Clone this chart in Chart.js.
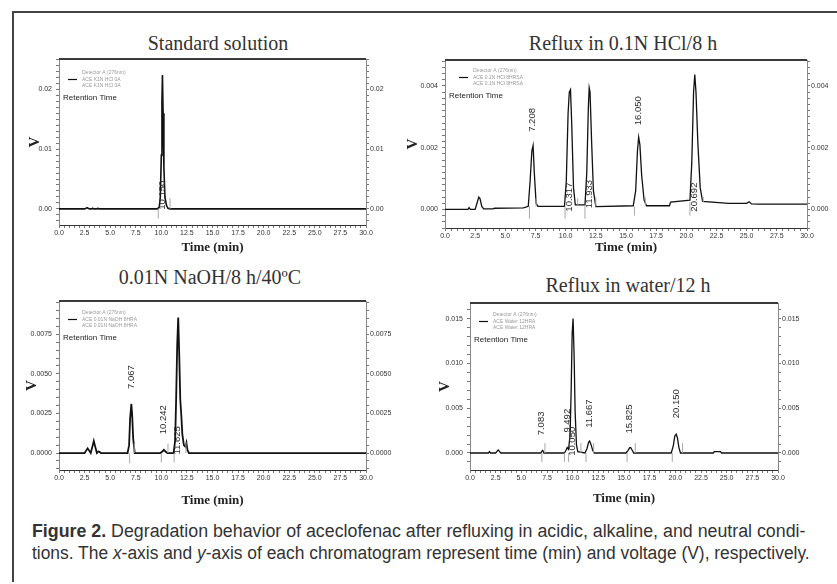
<!DOCTYPE html>
<html><head><meta charset="utf-8">
<script src="https://cdn.jsdelivr.net/npm/chart.js@4/dist/chart.umd.min.js"></script>
<style>
html,body{margin:0;padding:0;background:#fff;}
#fig{position:relative;width:837px;height:584px;overflow:hidden;background:#fff;}
.frame-top{position:absolute;left:12px;top:11px;width:825px;height:2px;background:#444;}
.frame-left{position:absolute;left:12px;top:11px;width:2px;height:571px;background:#444;}
.ptitle{position:absolute;font-family:'Liberation Serif',serif;font-size:20px;color:#333;white-space:nowrap;transform:translate(-50%,-50%);line-height:1;}
canvas{position:absolute;}
.cap{position:absolute;left:32px;font-family:'Liberation Sans Narrow','Liberation Sans',sans-serif;font-size:18px;color:#333;white-space:nowrap;transform-origin:0 50%;line-height:1;}
</style></head>
<body>
<div id="fig">
  <div class="frame-top"></div><div class="frame-left"></div>
  <div class="ptitle" style="left:218px;top:43px">Standard solution</div>
  <div class="ptitle" style="left:623px;top:43px">Reflux in 0.1N HCl/8 h</div>
  <div class="ptitle" style="left:210px;top:277px">0.01N NaOH/8 h/40ºC</div>
  <div class="ptitle" style="left:628px;top:285px">Reflux in water/12 h</div>
  <canvas id="c1" width="380" height="208" style="left:20px;top:50px"></canvas>
  <canvas id="c2" width="434" height="209" style="left:403px;top:51px"></canvas>
  <canvas id="c3" width="380" height="218" style="left:20px;top:292px"></canvas>
  <canvas id="c4" width="390" height="216" style="left:430px;top:294px"></canvas>
  <div class="cap" id="cap1" style="top:522px"><b>Figure 2.</b> Degradation behavior of aceclofenac after refluxing in acidic, alkaline, and neutral condi-</div>
  <div class="cap" id="cap2" style="top:544px">tions. The <i>x</i>-axis and <i>y</i>-axis of each chromatogram represent time (min) and voltage (V), respectively.</div>
</div>
<script>
// ---------- shared axis data ----------
const xMajorTicks = [0, 2.5, 5, 7.5, 10, 12.5, 15, 17.5, 20, 22.5, 25, 27.5, 30];
const xTickLabels = ['0.0','2.5','5.0','7.5','10.0','12.5','15.0','17.5','20.0','22.5','25.0','27.5','30.0'];

// ---------- Panel 1: Standard solution ----------
const stdTime = [0, 2.5, 2.65, 2.75, 2.85, 3.0, 3.2, 3.3, 3.4, 3.7, 3.8, 3.9, 4.1, 9.6, 9.8, 9.9, 10.0, 10.06, 10.11, 10.17, 10.25, 10.35, 10.5, 10.65, 10.85, 30];
const stdVolt = [0, 0, 0.0001, 0.0002, 0.0001, 0, 0, 0.0001, 0, 0, 0.0001, 0, 0, 0, 0.0003, 0.002, 0.009, 0.018, 0.0224, 0.016, 0.007, 0.002, 0.0006, 0.0001, 0, 0];
const stdMarkTime = [9.7, 10.85];
const stdMarkLow = [-0.0016, 0];
const stdMarkHigh = [0, 0.0018];
const stdPeakLabels = ['10.150'];
const stdPeakTime = [10.15];
const stdPeakY = [0.0023];
const stdYTicks = [0, 0.01, 0.02];
const stdYLabels = ['0.00', '0.01', '0.02'];
const stdLegend = ['Detector A (276nm)', 'ACE K1N HCl 0A', 'ACE K1N HCl 0A'];

// ---------- Panel 2: Reflux in 0.1N HCl/8 h ----------
const acidTime = [0, 1.9, 2.0, 2.1, 2.5, 2.65, 2.8, 2.9, 3.05, 3.2, 4.0, 4.1,
  6.5, 6.9, 7.05, 7.2, 7.3, 7.4, 7.55, 7.7,
  9.9, 10.05, 10.2, 10.3, 10.4, 10.5, 10.65, 10.8,
  11.6, 11.75, 11.88, 11.95, 12.02, 12.15, 12.3, 12.5,
  15.6, 15.8, 15.95, 16.05, 16.15, 16.3, 16.5, 16.7,
  18.6, 18.7, 20.3, 20.45, 20.6, 20.7, 20.8, 20.95, 21.15, 21.35,
  23.5, 25.0, 25.2, 25.4, 26.0, 30];
const acidVolt = [0, 0, 0.00006, 0, 0, 0.0002, 0.0004, 0.00035, 0.0001, 0.00002, 0.00002, 0.00004,
  0.00005, 0.0001, 0.0009, 0.0019, 0.00207, 0.0012, 0.0002, 0.0001,
  0.0001, 0.0009, 0.0031, 0.0038, 0.00388, 0.0028, 0.0007, 0.00015,
  0.00015, 0.0012, 0.0033, 0.00394, 0.0038, 0.0022, 0.0006, 0.00009,
  0.00012, 0.0006, 0.0019, 0.00234, 0.0021, 0.0011, 0.0003, 0.00012,
  0.00012, 0.00024, 0.0003, 0.0015, 0.0038, 0.00437, 0.0038, 0.0022, 0.0007, 0.00026,
  0.0002, 0.0002, 0.00025, 0.00018, 0.00017, 0.00017];
const acidMarkTime = [7.0, 7.55, 9.95, 11.0, 11.6, 12.5, 15.7, 16.6, 20.3, 21.4];
const acidMarkLow = [-0.0003, 0.0001, -0.0003, 0.00015, -0.0003, 0.0001, -0.0002, 0.00012, -0.0002, 0.00024];
const acidMarkHigh = [0.0001, 0.00035, 0.0001, 0.00036, 0.00015, 0.0004, 0.0001, 0.0004, 0.00024, 0.0004];
const acidPeakLabels = ['7.208', '10.317', '11.933', '16.050', '20.692'];
const acidPeakTime = [7.25, 10.3, 11.95, 16.05, 20.7];
const acidPeakY = [0.0029, 0.0004, 0.0005, 0.0032, 0.0004];
const acidYTicks = [0, 0.002, 0.004];
const acidYLabels = ['0.000', '0.002', '0.004'];
const acidLegend = ['Detector A (276nm)', 'ACE 0.1N HCl 8HRSA', 'ACE 0.1N HCl 8HRSA'];

// ---------- Panel 3: 0.01N NaOH/8 h/40ºC ----------
const alkTime = [0, 2.5, 2.7, 2.8, 2.9, 3.1, 3.3, 3.4, 3.5, 3.7, 3.85, 3.95, 4.1,
  6.7, 6.85, 6.95, 7.07, 7.15, 7.25, 7.4,
  9.9, 10.1, 10.25, 10.4, 10.6,
  11.2, 11.35, 11.45, 11.55, 11.65, 11.75, 11.85, 11.95, 12.05, 12.2, 12.35, 12.45, 12.55, 12.7, 30];
const alkVolt = [0, 0, 0.0002, 0.0003, 0.0002, 0, 0.0005, 0.00076, 0.0005, 0, 0.0001, 0.00008, 0,
  0, 0.0005, 0.0022, 0.0031, 0.0024, 0.0009, 0,
  0, 0.0001, 0.0002, 0.0001, 0,
  0, 0.0008, 0.0035, 0.0068, 0.00855, 0.0062, 0.0034, 0.0024, 0.0012, 0.0005, 0.0004, 0.00065, 0.0002, 0, 0];
const alkMarkTime = [6.9, 7.35, 10.0, 10.65, 11.25, 12.4];
const alkMarkLow = [-0.00065, 0, -0.0006, 0, -0.0006, 0];
const alkMarkHigh = [0, 0.0006, 0, 0.0006, 0, 0.0007];
const alkPeakLabels = ['7.067', '10.242', '11.625'];
const alkPeakTime = [7.07, 10.2, 11.6];
const alkPeakY = [0.0048, 0.0021, 0.0008];
const alkYTicks = [0, 0.0025, 0.005, 0.0075];
const alkYLabels = ['0.0000', '0.0025', '0.0050', '0.0075'];
const alkLegend = ['Detector A (276nm)', 'ACE 0.01N NaOH 8HRA', 'ACE 0.01N NaOH 8HRA'];

// ---------- Panel 4: Reflux in water/12 h ----------
const watTime = [0, 1.8, 1.9, 2.0, 2.5, 2.65, 2.75, 2.85, 3.0,
  6.9, 7.0, 7.08, 7.2,
  9.2, 9.35, 9.47, 9.6, 9.75, 9.85, 9.95, 10.04, 10.14, 10.24, 10.37, 10.5,
  11.2, 11.4, 11.55, 11.65, 11.8, 11.95, 12.1,
  15.2, 15.4, 15.55, 15.65, 15.8, 15.95,
  19.6, 19.8, 19.95, 20.08, 20.2, 20.35, 20.5,
  23.7, 23.8, 24.4, 24.5, 30];
const watVolt = [0, 0, 0.00015, 0, 0, 0.0002, 0.00033, 0.0002, 0,
  0, 0.0002, 0.0003, 0,
  0, 0.0003, 0.0006, 0.0004, 0.002, 0.0068, 0.0133, 0.015, 0.0109, 0.0046, 0.0009, 0.00015,
  0, 0.0005, 0.0012, 0.00134, 0.0009, 0.0003, 0,
  0, 0.0003, 0.0006, 0.0006, 0.0003, 0,
  0, 0.0008, 0.0019, 0.0021, 0.0017, 0.0006, 0,
  0, 0.00015, 0.00015, 0, 0];
const watMarkTime = [7.0, 7.3, 9.2, 9.6, 10.8, 11.3, 12.05, 15.3, 16.1, 19.7, 20.7];
const watMarkLow = [-0.001, 0, -0.001, -0.001, 0, -0.001, 0, -0.001, 0, -0.001, 0];
const watMarkHigh = [0, 0.0011, 0, 0, 0.0011, 0, 0.0011, 0, 0.0011, 0, 0.0011];
const watPeakLabels = ['7.083', '9.492', '10.050', '11.667', '15.825', '20.150'];
const watPeakTime = [7.0, 9.45, 9.95, 11.6, 15.5, 20.1];
const watPeakY = [0.0033, 0.0036, 0.0013, 0.0044, 0.0038, 0.0055];
const watYTicks = [0, 0.005, 0.01, 0.015];
const watYLabels = ['0.000', '0.005', '0.010', '0.015'];
const watLegend = ['Detector A (276nm)', 'ACE Water 12HRA', 'ACE Water 12HRA'];

// ---------- helpers ----------
const TICK_FONT = {family: "'Liberation Sans Narrow','Liberation Sans',sans-serif", size: 7};

function near(a, b, step) { return Math.abs(a - b) < step * 0.01; }

function stepTicks(min, max, step) {
  const out = [];
  let k = Math.ceil(min / step - 1e-9);
  while (k * step <= max + 1e-12) { out.push({value: +(k * step).toFixed(8)}); k++; }
  return out;
}

const decor = {
  id: 'decor',
  afterDraw(chart, args, o) {
    const {ctx, chartArea: a, scales} = chart;
    ctx.save();
    // thick top frame line
    ctx.strokeStyle = '#3a3a3a'; ctx.lineWidth = 2;
    ctx.beginPath(); ctx.moveTo(a.left, a.top); ctx.lineTo(a.right, a.top); ctx.stroke();
    // peak labels
    ctx.fillStyle = '#2a2a2a';
    ctx.font = "9.5px 'Liberation Sans', sans-serif";
    ctx.textAlign = 'center'; ctx.textBaseline = 'middle';
    o.labels.forEach((s, i) => {
      const x = scales.x.getPixelForValue(o.times[i]);
      const y = scales.y.getPixelForValue(o.ys[i]);
      ctx.save(); ctx.translate(x, y); ctx.rotate(-Math.PI / 2); ctx.fillText(s, 0, 0); ctx.restore();
    });
    // legend block
    ctx.textAlign = 'left'; ctx.textBaseline = 'middle';
    ctx.font = "5px 'Liberation Sans Narrow', sans-serif";
    ctx.fillStyle = '#9a9a9a';
    o.legend.forEach((s, i) => ctx.fillText(s, a.left + o.legX, a.top + o.legY + i * 6.5));
    ctx.strokeStyle = '#111'; ctx.lineWidth = 1.2;
    ctx.beginPath(); ctx.moveTo(a.left + o.legX - 14, a.top + o.legY + 6.5); ctx.lineTo(a.left + o.legX - 5, a.top + o.legY + 6.5); ctx.stroke();
    ctx.fillStyle = '#222';
    ctx.font = "8px 'Liberation Sans Narrow', sans-serif";
    ctx.fillText('Retention Time', a.left + 4, a.top + o.legY + 25);
    ctx.restore();
  }
};

function makePanel(id, p) {
  const trace = p.time.map((t, i) => ({x: t, y: p.volt[i]}));
  const marks = [];
  p.markTime.forEach((t, i) => {
    marks.push({x: t, y: p.markLow[i]}, {x: t, y: p.markHigh[i]}, {x: t, y: null});
  });
  const yCommon = (pos) => ({
    type: 'linear', position: pos, min: p.ymin, max: p.ymax,
    afterBuildTicks: (s) => { s.ticks = stepTicks(p.ymin, p.ymax, p.yStep); },
    afterFit: (s) => { s.width = pos === 'left' ? p.leftW : p.rightW; },
    ticks: {
      font: TICK_FONT, color: '#333', padding: pos === 'left' ? 4 : 1, autoSkip: false,
      callback: (v) => { const k = p.yTicks.findIndex(m => near(m, v, p.yStep)); return k >= 0 ? p.yLabels[k] : ''; }
    },
    grid: {drawOnChartArea: false, drawTicks: true, tickLength: 3, color: '#555', lineWidth: 0.8},
    border: {display: true, color: '#888', width: 1},
    title: pos === 'left'
      ? {display: true, text: 'V', color: '#222', font: {family: "'Liberation Serif', serif", size: 15, weight: 'bold'}, padding: {top: p.vPad, bottom: 0}}
      : {display: false}
  });
  return new Chart(document.getElementById(id), {
    type: 'line',
    data: {datasets: [
      {data: marks, borderColor: '#a8a8a8', borderWidth: 1, pointRadius: 0, spanGaps: false, tension: 0},
      {data: trace, borderColor: '#111', borderWidth: p.lineW, pointRadius: 0, tension: 0, fill: false}
    ]},
    options: {
      responsive: false, animation: false, parsing: true,
      layout: {padding: {top: p.padTop, left: 0, right: 0, bottom: 0}},
      plugins: {legend: {display: false}, tooltip: {enabled: false},
        decor: {labels: p.peakLabels, times: p.peakTime, ys: p.peakY, legend: p.legend, legX: p.legX, legY: p.legY}},
      scales: {
        x: {
          type: 'linear', min: 0, max: 30,
          afterBuildTicks: (s) => { s.ticks = stepTicks(0, 30, 0.5); },
          afterFit: (s) => { s.height = p.bottomH; },
          ticks: {font: TICK_FONT, color: '#333', padding: 1, autoSkip: false, maxRotation: 0,
            callback: (v) => { const k = xMajorTicks.findIndex(m => near(m, v, 0.5)); return k >= 0 ? xTickLabels[k] : ''; }},
          grid: {drawOnChartArea: false, drawTicks: true, tickLength: 3, color: '#555', lineWidth: 0.8},
          border: {display: true, color: '#333', width: 1},
          title: {display: true, text: 'Time (min)', color: '#222',
            font: {family: "'Liberation Serif', serif", size: 13, weight: 'bold'}, padding: {top: 0, bottom: p.xPad}}
        },
        y: yCommon('left'),
        y2: yCommon('right')
      }
    },
    plugins: [decor]
  });
}

makePanel('c1', {time: stdTime, volt: stdVolt, markTime: stdMarkTime, markLow: stdMarkLow, markHigh: stdMarkHigh,
  peakLabels: stdPeakLabels, peakTime: stdPeakTime, peakY: stdPeakY, yTicks: stdYTicks, yLabels: stdYLabels, legend: stdLegend,
  ymin: -0.0027, ymax: 0.0251, yStep: 0.001, leftW: 39, rightW: 34, bottomH: 33, padTop: 9, vPad: 6, xPad: 3, lineW: 1.6, legX: 23, legY: 14});
makePanel('c2', {time: acidTime, volt: acidVolt, markTime: acidMarkTime, markLow: acidMarkLow, markHigh: acidMarkHigh,
  peakLabels: acidPeakLabels, peakTime: acidPeakTime, peakY: acidPeakY, yTicks: acidYTicks, yLabels: acidYLabels, legend: acidLegend,
  ymin: -0.0006, ymax: 0.00484, yStep: 0.0002, leftW: 42, rightW: 30, bottomH: 32, padTop: 9, vPad: 1, xPad: 5, lineW: 1.3, legX: 28, legY: 11});
makePanel('c3', {time: alkTime, volt: alkVolt, markTime: alkMarkTime, markLow: alkMarkLow, markHigh: alkMarkHigh,
  peakLabels: alkPeakLabels, peakTime: alkPeakTime, peakY: alkPeakY, yTicks: alkYTicks, yLabels: alkYLabels, legend: alkLegend,
  ymin: -0.00107, ymax: 0.0096, yStep: 0.0005, leftW: 39, rightW: 34, bottomH: 40, padTop: 9, vPad: 3, xPad: 2, lineW: 1.8, legX: 23, legY: 12});
makePanel('c4', {time: watTime, volt: watVolt, markTime: watMarkTime, markLow: watMarkLow, markHigh: watMarkHigh,
  peakLabels: watPeakLabels, peakTime: watPeakTime, peakY: watPeakY, yTicks: watYTicks, yLabels: watYLabels, legend: watLegend,
  ymin: -0.0019, ymax: 0.01674, yStep: 0.001, leftW: 40, rightW: 42, bottomH: 40, padTop: 9, vPad: 6, xPad: 4, lineW: 1.3, legX: 23, legY: 12});

// fit caption lines to the reference widths
[['cap1', 773], ['cap2', 778]].forEach(([id, w]) => {
  const el = document.getElementById(id);
  el.style.transform = 'scaleX(' + (w / el.offsetWidth) + ')';
});
</script>
</body></html>
